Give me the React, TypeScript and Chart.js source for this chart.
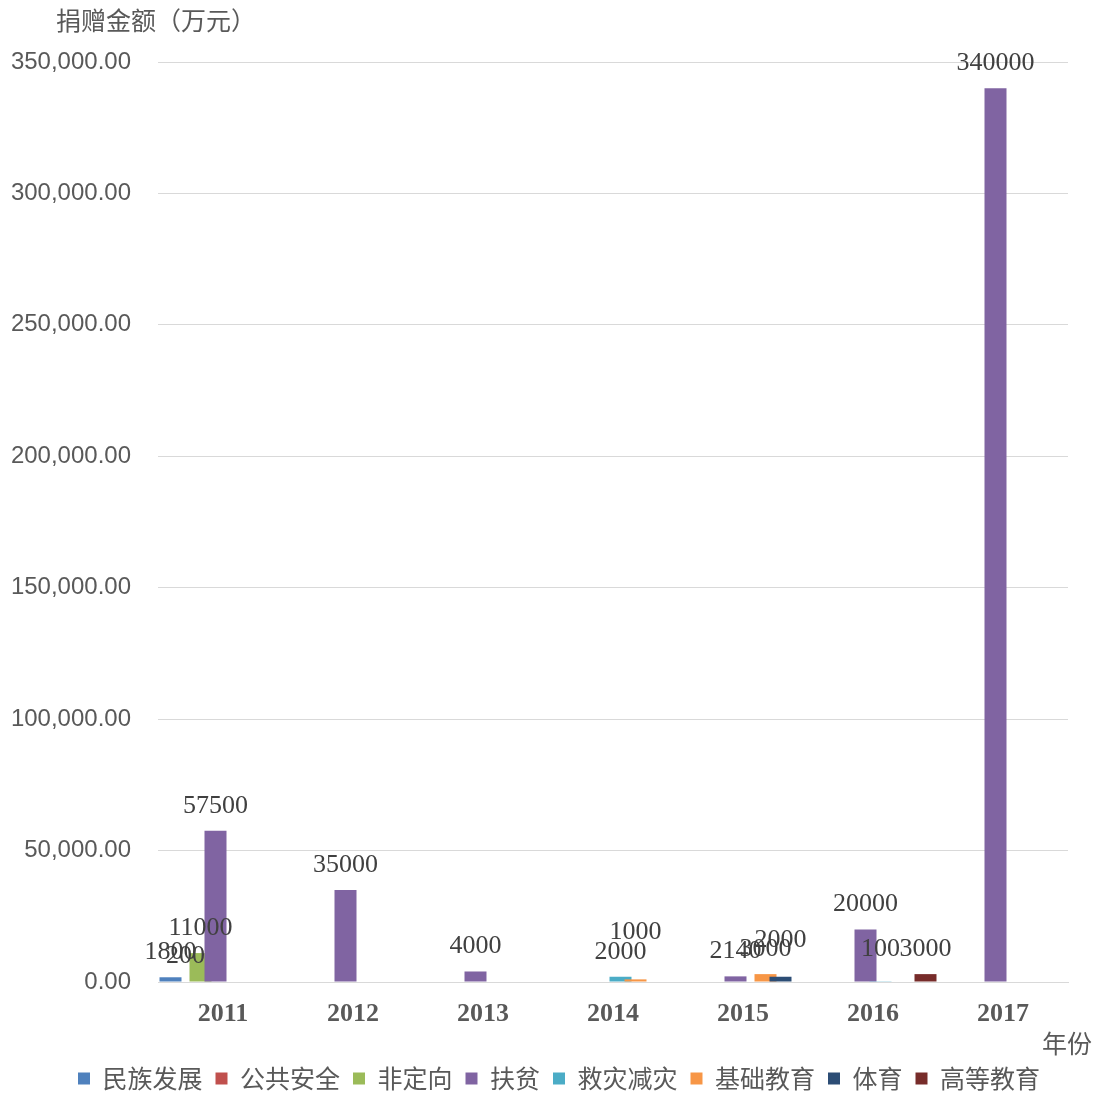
import React, { useEffect, useRef } from "react";
import { Chart, registerables } from "chart.js";

Chart.register(...registerables);

const YEARS = ["2011", "2012", "2013", "2014", "2015", "2016", "2017"];
const SERIES_NAMES = ["民族发展", "公共安全", "非定向", "扶贫", "救灾减灾", "基础教育", "体育", "高等教育"];

const MINZU_FAZHAN = [1800, null, null, null, null, null, null];
const GONGGONG_ANQUAN = [200, null, null, null, null, null, null];
const FEI_DINGXIANG = [11000, null, null, null, null, null, null];
const FUPIN = [57500, 35000, 4000, null, 2140, 20000, 340000];
const JIUZAI_JIANZAI = [null, null, null, 2000, null, 100, null];
const JICHU_JIAOYU = [null, null, null, 1000, 3000, null, null];
const TIYU = [null, null, null, null, 2000, null, null];
const GAODENG_JIAOYU = [null, null, null, null, null, 3000, null];

const SERIES_VALUES = [
  MINZU_FAZHAN,
  GONGGONG_ANQUAN,
  FEI_DINGXIANG,
  FUPIN,
  JIUZAI_JIANZAI,
  JICHU_JIAOYU,
  TIYU,
  GAODENG_JIAOYU,
];

const COLORS = ["#4F81BD", "#C0504D", "#9BBB59", "#8064A2", "#4BACC6", "#F79646", "#2C4D75", "#772C2A"];

const Y_MIN = 0;
const Y_MAX = 350000;
const Y_STEP = 50000;

const Y_TITLE = "捐赠金额（万元）";
const X_TITLE = "年份";

// manual nudges of some value labels (as in the original chart)
const LABEL_LIFT: Record<string, number> = {
  "基础教育|2014": 22,
  "体育|2015": 12,
  "救灾减灾|2016": 8,
};

const LEGEND_SHIFT_X = 25;
const LEGEND_SHIFT_Y = 8;

const CJK = '"Noto Sans CJK SC", "Noto Sans", sans-serif';

const orderedDraw = {
  id: "orderedDraw",
  afterLayout(chart: any) {
    const lg = chart.legend;
    if (!lg) return;
    lg.left += LEGEND_SHIFT_X;
    lg.right += LEGEND_SHIFT_X;
    lg.top += LEGEND_SHIFT_Y;
    lg.bottom += LEGEND_SHIFT_Y;
  },
  beforeDatasetsDraw(chart: any) {
    const metas = chart.getSortedVisibleDatasetMetas();
    const ctx = chart.ctx;
    const a = chart.chartArea;
    ctx.save();
    ctx.beginPath();
    ctx.rect(a.left, a.top - 40, a.right - a.left, a.bottom - a.top + 40);
    ctx.clip();
    for (const meta of metas) meta.controller.draw();
    ctx.restore();
    return false;
  },
};

const annotations = {
  id: "annotations",
  afterDraw(chart: any) {
    const ctx = chart.ctx;
    ctx.save();
    ctx.font = '26px "Liberation Serif", serif';
    ctx.fillStyle = "#404040";
    ctx.textAlign = "center";
    ctx.textBaseline = "middle";
    chart.data.datasets.forEach((ds: any, di: number) => {
      const meta = chart.getDatasetMeta(di);
      meta.data.forEach((el: any, i: number) => {
        const v = ds.data[i];
        if (v == null) return;
        const lift = LABEL_LIFT[`${ds.label}|${YEARS[i]}`] || 0;
        ctx.fillText(String(v), el.x, el.y - 25 - lift);
      });
    });
    ctx.font = `25px ${CJK}`;
    ctx.fillStyle = "#595959";
    ctx.textAlign = "left";
    ctx.fillText(Y_TITLE, 56, 20);
    ctx.textAlign = "right";
    ctx.fillText(X_TITLE, 1092, 1043);
    ctx.restore();
  },
};

export default function App() {
  const ref = useRef<HTMLCanvasElement | null>(null);

  useEffect(() => {
    if (!ref.current) return;
    const chart = new Chart(ref.current, {
      type: "bar",
      data: {
        labels: YEARS,
        datasets: SERIES_NAMES.map((name, i) => ({
          label: name,
          data: SERIES_VALUES[i],
          backgroundColor: COLORS[i],
          borderWidth: 0,
          categoryPercentage: 120 / 130,
          barPercentage: 22 / 15,
        })),
      },
      options: {
        animation: false,
        responsive: false,
        devicePixelRatio: 1,
        layout: { padding: { left: 0, right: 28, top: 62, bottom: 0 } },
        plugins: {
          legend: {
            position: "bottom",
            labels: {
              boxWidth: 12,
              boxHeight: 12,
              padding: 13,
              color: "#595959",
              font: { family: CJK, size: 25 },
            },
          },
          tooltip: { enabled: false },
        },
        scales: {
          x: {
            grid: { display: false, drawTicks: false },
            border: { display: true, color: "#d9d9d9", width: 1 },
            ticks: {
              color: "#595959",
              padding: 17,
              font: { family: '"Liberation Serif", serif', size: 26, weight: "bold" },
            },
            afterFit(scale: any) {
              scale.height = 63;
            },
          },
          y: {
            min: Y_MIN,
            max: Y_MAX,
            grid: { color: "#d9d9d9", drawTicks: false },
            border: { display: false },
            ticks: {
              stepSize: Y_STEP,
              color: "#595959",
              padding: 27,
              font: { family: '"Liberation Sans", sans-serif', size: 24 },
              callback: (v: any) =>
                Number(v).toLocaleString("en-US", { minimumFractionDigits: 2, maximumFractionDigits: 2 }),
            },
            afterFit(scale: any) {
              scale.width = 158;
            },
          },
        },
      },
      plugins: [orderedDraw, annotations],
    });
    return () => chart.destroy();
  }, []);

  return (
    <div style={{ position: "fixed", left: 0, top: 0, width: 1096, height: 1093, background: "#fff" }}>
      <canvas ref={ref} width={1096} height={1093} style={{ width: 1096, height: 1093, display: "block" }} />
    </div>
  );
}
